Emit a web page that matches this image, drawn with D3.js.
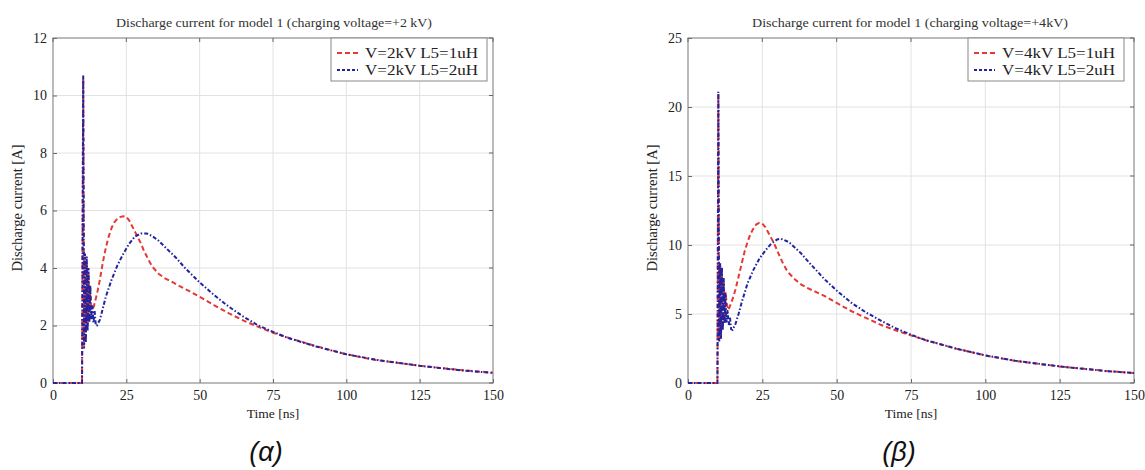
<!DOCTYPE html>
<html><head><meta charset="utf-8">
<script src="https://cdn.jsdelivr.net/npm/d3@7"></script>
<style>body{margin:0;background:#fff}svg{display:block}</style>
</head><body>
<script>
// ---- data ----
const xTicks = [0, 25, 50, 75, 100, 125, 150];
const yTicksA = [0, 2, 4, 6, 8, 10, 12];
const yTicksB = [0, 5, 10, 15, 20, 25];
const titleA = "Discharge current for model 1 (charging voltage=+2 kV)";
const titleB = "Discharge current for model 1 (charging voltage=+4kV)";
const legendA = ["V=2kV L5=1uH", "V=2kV L5=2uH"];
const legendB = ["V=4kV L5=1uH", "V=4kV L5=2uH"];

const tRedA  = [0, 9.9, 10.3, 10.6, 10.9, 11.2, 11.5, 11.8, 12.1, 12.4, 12.7, 13.0, 13.5, 14, 15, 16, 17, 18, 19, 20, 21, 22, 23, 24, 25, 26, 27, 28, 29, 30, 31, 32, 33, 34, 36, 38, 40, 43, 46, 50, 55, 60, 65, 70, 75, 80, 90, 100, 110, 125, 140, 150];
const iRedA  = [0, 0, 10.6, 1.3, 4.4, 1.6, 4.2, 2.0, 3.8, 2.3, 3.3, 2.7, 2.55, 2.7, 3.1, 3.6, 4.2, 4.7, 5.1, 5.4, 5.6, 5.72, 5.78, 5.8, 5.78, 5.65, 5.45, 5.25, 5.05, 4.85, 4.6, 4.4, 4.2, 4.03, 3.8, 3.65, 3.55, 3.38, 3.22, 3.0, 2.7, 2.42, 2.17, 1.95, 1.75, 1.58, 1.27, 1.0, 0.8, 0.6, 0.44, 0.36];
const tBlueA = [0, 9.9, 10.3, 10.6, 10.9, 11.2, 11.5, 11.8, 12.1, 12.4, 12.7, 13.0, 13.4, 13.8, 14.2, 14.6, 15, 16, 17, 18, 20, 22, 24, 26, 28, 30, 32, 34, 36, 38, 40, 42, 45, 50, 55, 60, 65, 70, 75, 80, 90, 100, 110, 125, 140, 150];
const iBlueA = [0, 0, 10.7, 1.2, 4.5, 1.4, 4.4, 1.8, 4.0, 2.1, 3.4, 2.2, 2.7, 2.1, 2.5, 2.0, 2.0, 2.2, 2.6, 3.0, 3.6, 4.1, 4.5, 4.85, 5.1, 5.2, 5.2, 5.1, 4.95, 4.75, 4.55, 4.35, 4.0, 3.5, 3.05, 2.65, 2.3, 2.0, 1.78, 1.57, 1.26, 1.0, 0.81, 0.6, 0.43, 0.35];

const tRedB  = [0, 9.9, 10.2, 10.5, 10.8, 11.1, 11.4, 11.7, 12.0, 12.3, 12.6, 13.0, 13.5, 14, 15, 16, 17, 18, 19, 20, 21, 22, 23, 24, 25, 26, 27, 28, 29, 30, 31, 32, 33, 34, 36, 38, 40, 43, 46, 50, 55, 60, 65, 70, 75, 80, 90, 100, 110, 125, 140, 150];
const iRedB  = [0, 0, 21.0, 3.2, 8.6, 3.4, 8.3, 4.0, 7.5, 4.5, 6.6, 5.8, 5.3, 5.5, 6.1, 6.8, 7.7, 8.6, 9.5, 10.2, 10.8, 11.2, 11.5, 11.6, 11.55, 11.3, 10.9, 10.5, 10.1, 9.6, 9.1, 8.65, 8.25, 7.95, 7.5, 7.15, 6.9, 6.6, 6.3, 5.8, 5.2, 4.7, 4.2, 3.8, 3.45, 3.1, 2.5, 2.0, 1.6, 1.2, 0.88, 0.72];
const tBlueB = [0, 9.9, 10.2, 10.5, 10.8, 11.1, 11.4, 11.7, 12.0, 12.3, 12.6, 12.9, 13.3, 13.7, 14.1, 14.5, 15, 16, 17, 18, 20, 22, 24, 26, 28, 30, 31, 32, 34, 36, 38, 40, 43, 46, 50, 55, 60, 65, 70, 75, 80, 90, 100, 110, 125, 140, 150];
const iBlueB = [0, 0, 21.1, 3.0, 8.7, 3.2, 8.4, 3.8, 7.6, 4.3, 6.5, 4.4, 5.3, 4.2, 4.8, 3.9, 3.85, 4.3, 5.0, 5.8, 7.2, 8.2, 9.0, 9.6, 10.1, 10.4, 10.45, 10.4, 10.2, 9.8, 9.4, 8.9, 8.2, 7.5, 6.7, 5.8, 5.1, 4.5, 3.95, 3.5, 3.1, 2.5, 2.0, 1.62, 1.2, 0.88, 0.72];

// ---- drawing ----
const W = 1145, H = 470;
const svg = d3.select("body").append("svg").attr("width", W).attr("height", H)
  .style("font-family", "'Liberation Serif','Times New Roman',serif");

const RED = "#e23b35", BLUE = "#22239e";

function panel(o) {
  const g = svg.append("g");
  const x = d3.scaleLinear().domain([0, 150]).range([o.x0, o.x1]);
  const y = d3.scaleLinear().domain([0, o.yMax]).range([383, 38]);

  // grid
  g.append("g").selectAll("line").data(o.xTicks.slice(1, -1)).join("line")
    .attr("x1", d => x(d)).attr("x2", d => x(d)).attr("y1", y(0)).attr("y2", y(o.yMax))
    .attr("stroke", "#e2e2e2").attr("stroke-width", 1);
  g.append("g").selectAll("line").data(o.yTicks.slice(1, -1)).join("line")
    .attr("y1", d => y(d)).attr("y2", d => y(d)).attr("x1", x(0)).attr("x2", x(150))
    .attr("stroke", "#e2e2e2").attr("stroke-width", 1);

  // axes
  const xa = g.append("g").attr("transform", `translate(0,${y(0)})`)
    .call(d3.axisBottom(x).tickValues(o.xTicks).tickSize(-4).tickPadding(7));
  const ya = g.append("g").attr("transform", `translate(${x(0)},0)`)
    .call(d3.axisLeft(y).tickValues(o.yTicks).tickSize(-4).tickPadding(6));
  [xa, ya].forEach(a => {
    a.select(".domain").remove();
    a.selectAll(".tick line").attr("stroke", "#666");
    a.selectAll("text").attr("font-size", 14).attr("fill", "#222")
      .style("font-family", "'Liberation Serif',serif");
  });
  // box
  g.append("rect").attr("x", x(0)).attr("y", y(o.yMax)).attr("width", x(150) - x(0))
    .attr("height", y(0) - y(o.yMax)).attr("fill", "none").attr("stroke", "#777").attr("stroke-width", 1);
  // top/right ticks
  g.append("g").selectAll("line").data(o.xTicks).join("line")
    .attr("x1", d => x(d)).attr("x2", d => x(d)).attr("y1", y(o.yMax)).attr("y2", y(o.yMax) + 4).attr("stroke", "#666");
  g.append("g").selectAll("line").data(o.yTicks).join("line")
    .attr("y1", d => y(d)).attr("y2", d => y(d)).attr("x1", x(150)).attr("x2", x(150) - 4).attr("stroke", "#666");

  const line = d3.line().x(d => x(d[0])).y(d => y(d[1]));
  const redPts = o.tRed.map((t, i) => [t, o.iRed[i]]);
  const bluePts = o.tBlue.map((t, i) => [t, o.iBlue[i]]);
  g.append("path").attr("d", line(redPts)).attr("fill", "none").attr("stroke", RED)
    .attr("stroke-width", 2).attr("stroke-dasharray", "5,3");
  g.append("path").attr("d", line(bluePts)).attr("fill", "none").attr("stroke", BLUE)
    .attr("stroke-width", 2).attr("stroke-dasharray", "4,2,1.5,2");

  // title
  g.append("text").attr("x", o.titleX).attr("y", 27).attr("text-anchor", "middle")
    .attr("font-size", 12).attr("fill", "#333").attr("textLength", 316).attr("lengthAdjust", "spacingAndGlyphs")
    .text(o.title);
  // axis labels
  g.append("text").attr("x", (x(0) + x(150)) / 2).attr("y", 418).attr("text-anchor", "middle")
    .attr("font-size", 13.5).attr("fill", "#222").text("Time [ns]");
  g.append("text").attr("transform", `translate(${o.yLabX},208) rotate(-90)`).attr("text-anchor", "middle")
    .attr("font-size", 14.5).attr("fill", "#222").text("Discharge current [A]");

  // legend
  const lx = o.legX, ly = 38, lw = 156, lh = 43;
  g.append("rect").attr("x", lx).attr("y", ly).attr("width", lw).attr("height", lh)
    .attr("fill", "#fff").attr("stroke", "#888").attr("stroke-width", 1);
  o.legend.forEach((txt, i) => {
    const yy = ly + 15 + i * 17;
    g.append("line").attr("x1", lx + 6).attr("x2", lx + 27).attr("y1", yy).attr("y2", yy)
      .attr("stroke", i ? BLUE : RED).attr("stroke-width", 1.8)
      .attr("stroke-dasharray", i ? "3,2" : "5,3");
    g.append("text").attr("x", lx + 34).attr("y", yy + 5).attr("font-size", 14).attr("fill", "#222")
      .attr("textLength", 113).attr("lengthAdjust", "spacingAndGlyphs").text(txt);
  });

  // caption
  g.append("text").attr("x", o.capX).attr("y", 461).attr("text-anchor", "middle")
    .attr("font-size", 27).attr("font-style", "italic").attr("fill", "#111")
    .style("font-family", "'Liberation Sans',Arial,sans-serif").text(o.caption);
}

panel({x0: 53, x1: 493, yMax: 12, xTicks, yTicks: yTicksA, tRed: tRedA, iRed: iRedA, tBlue: tBlueA, iBlue: iBlueA,
  title: titleA, titleX: 274, legend: legendA, legX: 331, yLabX: 22, capX: 266, caption: "(α)"});
panel({x0: 688, x1: 1134, yMax: 25, xTicks, yTicks: yTicksB, tRed: tRedB, iRed: iRedB, tBlue: tBlueB, iBlue: iBlueB,
  title: titleB, titleX: 910, legend: legendB, legX: 968, yLabX: 657, capX: 899, caption: "(β)"});
</script>
</body></html>
